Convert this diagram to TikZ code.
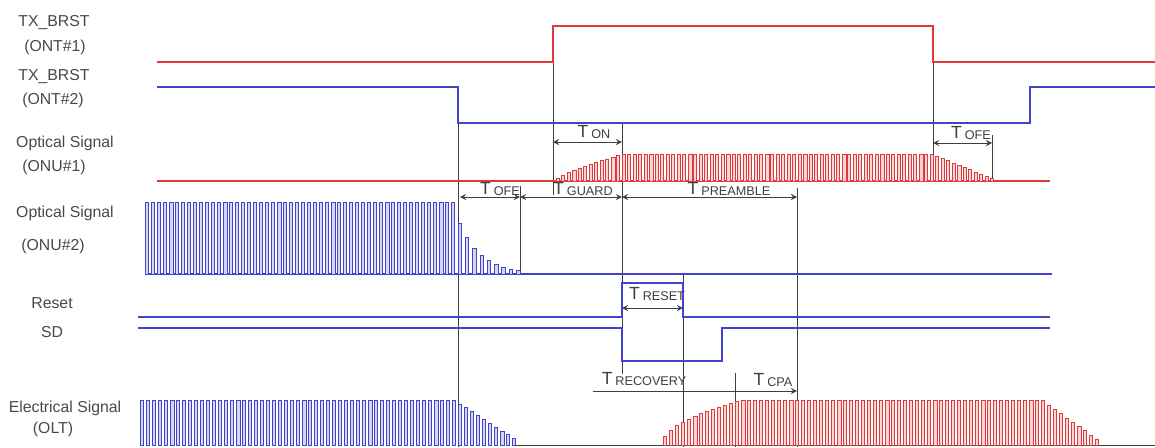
\documentclass[tikz,border=0pt]{standalone}
\usepackage{fontspec}
\setmainfont{Liberation Sans}
\usepackage{tikz}
\usetikzlibrary{arrows}
\usetikzlibrary{positioning}

\definecolor{sigred}{RGB}{222,58,58}
\definecolor{sigblue}{RGB}{66,66,206}
\definecolor{guidegrey}{RGB}{62,62,62}
\definecolor{textgrey}{RGB}{72,72,72}

\tikzstyle{redline} = [draw=sigred, line width=0.7pt]
\tikzstyle{blueline} = [draw=sigblue, line width=0.7pt]
\tikzstyle{redpulse} = [draw=sigred, fill=sigred!22, line width=0.4pt]
\tikzstyle{bluepulse} = [draw=sigblue, fill=sigblue!22, line width=0.4pt]
\tikzstyle{guide} = [draw=guidegrey, line width=0.55pt]
\tikzstyle{dimline} = [draw=guidegrey, line width=0.55pt, >=stealth]
\tikzstyle{siglabel} = [text=textgrey, font=\fontsize{9}{11}\selectfont, inner sep=0pt]
\tikzstyle{tlabel} = [text=guidegrey, font=\fontsize{10}{12}\selectfont, inner sep=0pt]

\newcommand{\tsub}[1]{T\,\raisebox{-0.8pt}{\fontsize{7.2}{8}\selectfont #1}}

\begin{document}
\begin{tikzpicture}[x=0.02cm, y=-0.02cm]
\useasboundingbox (0,0) rectangle (1155,447);

% signal names
\node (txone) [siglabel] at (54,23) {TX\_BRST};
\node (txoneid) [siglabel] at (55,47) {(ONT\#1)};
\node (txtwo) [siglabel] at (54,77) {TX\_BRST};
\node (txtwoid) [siglabel] at (53,100) {(ONT\#2)};
\node (optone) [siglabel] at (65,143) {Optical Signal};
\node (optoneid) [siglabel] at (54,167) {(ONU\#1)};
\node (opttwo) [siglabel] at (65,213) {Optical Signal};
\node (opttwoid) [siglabel] at (53,246) {(ONU\#2)};
\node (reset) [siglabel] at (52,303) {Reset};
\node (sd) [siglabel] at (52,332) {SD};
\node (elec) [siglabel] at (65,408) {Electrical Signal};
\node (elecid) [siglabel] at (53,429) {(OLT)};

% guide lines
\draw[guide] (553,62) -- (553,195);
\draw[guide] (458,123) -- (458,447);
\draw[guide] (622,123) -- (622,374);
\draw[guide] (520,186) -- (520,274);
\draw[guide] (683,274) -- (683,447);
\draw[guide] (735,373) -- (735,447);
\draw[guide] (797,188) -- (797,447);
\draw[guide] (933,62) -- (933,181);
\draw[guide] (992,135) -- (992,181);

% TX_BRST
\draw[redline] (157,62) -- (553,62) -- (553,26) -- (933,26) -- (933,62) -- (1155,62);
\draw[blueline] (157,87) -- (458,87) -- (458,123) -- (1030,123) -- (1030,87) -- (1155,87);

% optical signal ONU#1
\draw[redline] (157,181) -- (1050,181);
\foreach \i in {0,...,79} {
  \pgfmathsetmacro{\px}{556+5.5*\i}
  \pgfmathsetmacro{\ph}{27*min(1,((\px-553)/69)^0.75,(996-\px)/66)}
  \pgfmathsetmacro{\pw}{3.2+(mod(\i,7)==3)}
  \filldraw[redpulse] (\px,181) rectangle ++(\pw,-\ph);
}

% optical signal ONU#2
\draw[blueline] (145,274) -- (1052,274);
\foreach \i in {0,...,51} {
  \pgfmathsetmacro{\px}{145+6*\i}
  \pgfmathsetmacro{\pw}{3.6+1.2*(mod(\i,9)==4)}
  \filldraw[bluepulse] (\px,274) rectangle ++(\pw,-72);
}
\foreach \i in {0,...,8} {
  \pgfmathsetmacro{\px}{458+7.3*\i}
  \pgfmathsetmacro{\ph}{42*exp(-(\px+3-465)/22)}
  \filldraw[bluepulse] (\px,274) rectangle ++(3.5,-\ph);
}

% reset and SD
\draw[blueline] (138,317) -- (622,317) -- (622,283) -- (683,283) -- (683,317) -- (1050,317);
\draw[blueline] (138,328) -- (622,328) -- (622,361) -- (722,361) -- (722,328) -- (1050,328);

% electrical signal OLT
\draw[guide] (512,445) -- (1155,445);
\foreach \i in {0,...,62} {
  \pgfmathsetmacro{\px}{140+6*\i}
  \pgfmathsetmacro{\ph}{45*min(1,(522-\px)/70)}
  \pgfmathsetmacro{\pw}{3.6+1.2*(mod(\i,11)==5)}
  \filldraw[bluepulse] (\px,445) rectangle ++(\pw,-\ph);
}
\foreach \i in {0,...,72} {
  \pgfmathsetmacro{\px}{663+6*\i}
  \pgfmathsetmacro{\ph}{45*min(1,((\px-660)/80)^0.5,(1103-\px)/63)}
  \pgfmathsetmacro{\pw}{3.6+1.2*(mod(\i,8)==5)}
  \filldraw[redpulse] (\px,445) rectangle ++(\pw,-\ph);
}

% timing spans
\draw[dimline, <->] (553,142) -- (622,142);
\draw[dimline, <->] (933,143) -- (992,143);
\draw[dimline, <->] (460,197) -- (520,197);
\draw[dimline, <->] (520,197) -- (622,197);
\draw[dimline, <->] (622,197) -- (797,197);
\draw[dimline, <->] (622,308) -- (683,308);
\draw[dimline, ->] (593,391) -- (797,391);

\node (tonlbl) [tlabel] at (594,132) {\tsub{ON}};
\node (tofeonelbl) [tlabel] at (971,133) {\tsub{OFE}};
\node (tofelbl) [tlabel] at (500,189) {\tsub{OFE}};
\node (tguardlbl) [tlabel] at (583,189) {\tsub{GUARD}};
\node (tpreamblelbl) [tlabel] at (729,189) {\tsub{PREAMBLE}};
\node (tresetlbl) [tlabel] at (657,294) {\tsub{RESET}};
\node (trecoverylbl) [tlabel] at (644,379) {\tsub{RECOVERY}};
\node (tcpalbl) [tlabel] at (773,380) {\tsub{CPA}};
\end{tikzpicture}
\end{document}
